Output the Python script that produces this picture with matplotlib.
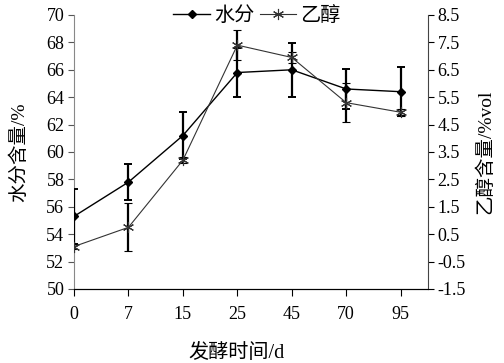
import matplotlib
matplotlib.use('Agg')
import matplotlib.pyplot as plt
from matplotlib.lines import Line2D
import numpy as np

plt.rcParams['font.family'] = ['Liberation Serif', 'Noto Sans CJK SC']
plt.rcParams['axes.unicode_minus'] = False

days = ['0', '7', '15', '25', '45', '70', '95']
water = [55.3, 57.8, 61.2, 65.8, 66.0, 64.6, 64.4]
water_err = [2.0, 1.3, 1.7, 1.8, 1.95, 1.45, 1.8]
ethanol = [0.05, 0.75, 3.2, 7.4, 6.95, 5.3, 4.95]
ethanol_err = [0.1, 0.87, 0.1, 0.55, 0.2, 0.72, 0.12]

x = np.arange(len(days))

fig = plt.figure(figsize=(5.04, 3.63), dpi=100)
ax = fig.add_axes([0.1468, 0.2039, 0.849 - 0.1468, 0.9587 - 0.2039])
ax2 = ax.twinx()

ax.errorbar(x, water, yerr=water_err, color='black', lw=1.0, marker='D',
            ms=4.5, ecolor='black', elinewidth=1.6, capsize=3, capthick=1.4,
            zorder=3)
ax2.errorbar(x, ethanol, yerr=ethanol_err, color='#333333', lw=0.8,
             marker=(6, 2, 0), ms=8, mew=0.8, ecolor='black',
             elinewidth=1.6, capsize=3, capthick=1.4, zorder=3)

ax.set_xlim(0, 6.5)
ax.set_ylim(50, 70)
ax.set_yticks(np.arange(50, 71, 2))
ax2.set_ylim(-1.5, 8.5)
ax2.set_yticks(np.arange(-1.5, 8.6, 1.0))
ax2.set_yticklabels(['%.1f' % v for v in np.arange(-1.5, 8.6, 1.0)])
ax.set_xticks(x)
ax.set_xticklabels(days)

for a in (ax, ax2):
    a.spines['top'].set_visible(False)
    a.tick_params(labelsize=13, length=4, width=0.8, direction='out', pad=3)
ax.spines['left'].set_color('#888888')
ax.spines['right'].set_visible(False)
ax2.spines['left'].set_visible(False)
ax2.spines['right'].set_color('#444444')
ax.tick_params(axis='y', colors='#555555', labelcolor='black', pad=3)
ax.tick_params(axis='x', length=5, pad=7)
ax2.tick_params(axis='y', pad=3)

ax.set_ylabel('水分含量/%', fontsize=14, labelpad=13)
ax2.set_ylabel('乙醇含量/%vol', fontsize=14, labelpad=7)
ax.set_xlabel('发酵时间/d', fontsize=14.5)
ax.xaxis.set_label_coords(0.46, -0.2)

h1 = Line2D([], [], color='black', lw=1.0, marker='D', ms=4.5)
h2 = Line2D([], [], color='#333333', lw=0.8, marker=(6, 2, 0), ms=8, mew=0.8)
fig.legend([h1, h2], ['水分', '乙醇'], loc='center', bbox_to_anchor=(0.51, 0.955),
           ncol=2, frameon=False, fontsize=14.5, handlelength=1.8,
           handletextpad=0.2, columnspacing=0.3, borderpad=0)

fig.savefig('out.png', dpi=100)
